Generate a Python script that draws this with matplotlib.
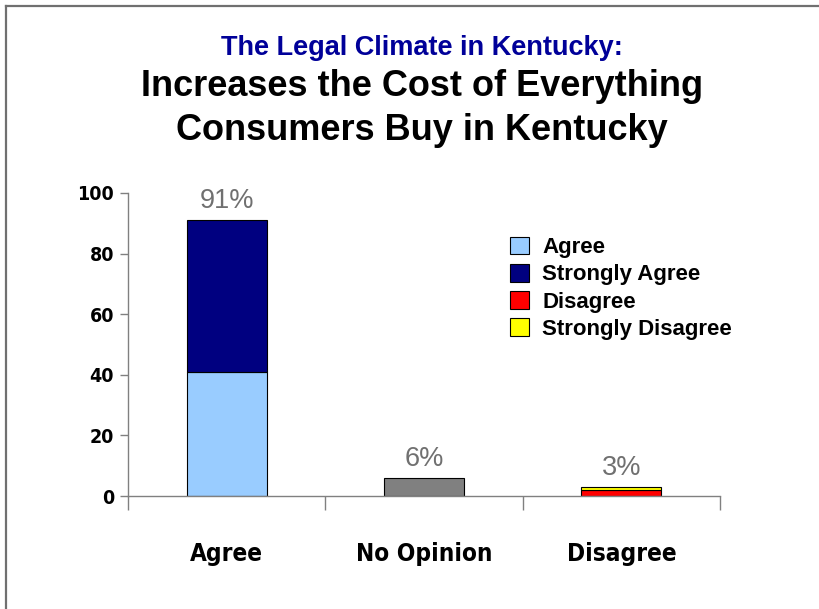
import matplotlib
matplotlib.use("Agg")
import matplotlib.pyplot as plt
from matplotlib.lines import Line2D
from matplotlib.patches import Patch

categories = ["Agree", "No Opinion", "Disagree"]
agree = [41, 0, 0]
strongly_agree = [50, 0, 0]
no_opinion = [0, 6, 0]
disagree = [0, 0, 2]
strongly_disagree = [0, 0, 1]
totals = [91, 6, 3]
total_labels = ["91%", "6%", "3%"]
yticks = [0, 20, 40, 60, 80, 100]
legend_labels = ["Agree", "Strongly Agree", "Disagree", "Strongly Disagree"]
legend_colors = ["#99CCFF", "#000080", "#FF0000", "#FFFF00"]

FONT = ["Liberation Sans", "DejaVu Sans"]
plt.rcParams["font.family"] = FONT

fig = plt.figure(figsize=(8.2, 6.09), dpi=100)
ax = fig.add_axes([128/820, 1-496/609, 592/820, 303/609])

x = list(range(len(categories)))
w = 0.405
ec = dict(edgecolor="black", linewidth=0.8)
b1 = ax.bar(x, agree, w, color=legend_colors[0], **ec)
b2 = ax.bar(x, strongly_agree, w, bottom=agree, color=legend_colors[1], **ec)
b0 = ax.bar(x, no_opinion, w, color="#808080", **ec)
b3 = ax.bar(x, disagree, w, color=legend_colors[2], **ec)
b4 = ax.bar(x, strongly_disagree, w, bottom=disagree, color=legend_colors[3], **ec)
for bars in (b1, b2, b0, b3, b4):
    for r in bars:
        if r.get_height() == 0:
            r.set_visible(False)

for xi, t, lab in zip(x, totals, total_labels):
    ax.text(xi, t + 2, lab, ha="center", va="bottom", fontsize=19.5, color="#707070")

ax.set_xlim(-0.5, 2.5)
ax.set_ylim(0, 100)
ax.set_yticks(yticks)
ax.set_yticklabels([str(v) for v in yticks], fontsize=14, fontweight="bold",
                   family="DejaVu Sans", fontstretch="condensed")
ax.set_xticks(x)
ax.set_xticklabels(categories, fontsize=17.5, fontweight="bold",
                   family="DejaVu Sans", fontstretch="condensed")
ax.tick_params(axis="x", which="major", length=0, pad=33)
ax.set_xticks([-0.5, 0.5, 1.5, 2.5], minor=True)
ax.tick_params(axis="x", which="minor", length=10, color="#808080", width=1)
ax.tick_params(axis="y", length=6, color="#808080", width=1, pad=4)
for s in ("top", "right"):
    ax.spines[s].set_visible(False)
for s in ("left", "bottom"):
    ax.spines[s].set_color("#808080")
    ax.spines[s].set_linewidth(1)

handles = [Patch(facecolor=c, edgecolor="black", linewidth=0.8, label=l)
           for c, l in zip(legend_colors, legend_labels)]
ax.legend(handles=handles, loc="upper left",
          bbox_to_anchor=(0.63, 0.885), frameon=False,
          prop=dict(family=FONT, weight="bold", size=16),
          handlelength=0.85, handleheight=0.85, handletextpad=0.6,
          labelspacing=0.25, borderaxespad=0)

fig.text(422/820, 1-48/609, "The Legal Climate in Kentucky:", ha="center", va="center",
         fontsize=19.5, fontweight="bold", color="#000099")
fig.text(422/820, 1-87/609, "Increases the Cost of Everything", ha="center", va="center",
         fontsize=26, fontweight="bold", color="black")
fig.text(422/820, 1-130/609, "Consumers Buy in Kentucky", ha="center", va="center",
         fontsize=26, fontweight="bold", color="black")

fig.add_artist(Line2D([6/820, 1], [1-5.5/609, 1-5.5/609], transform=fig.transFigure,
                      color="#707070", linewidth=1.6))
fig.add_artist(Line2D([6/820, 6/820], [0, 1-5.5/609], transform=fig.transFigure,
                      color="#707070", linewidth=1.6))

fig.savefig("out.png", dpi=100)
